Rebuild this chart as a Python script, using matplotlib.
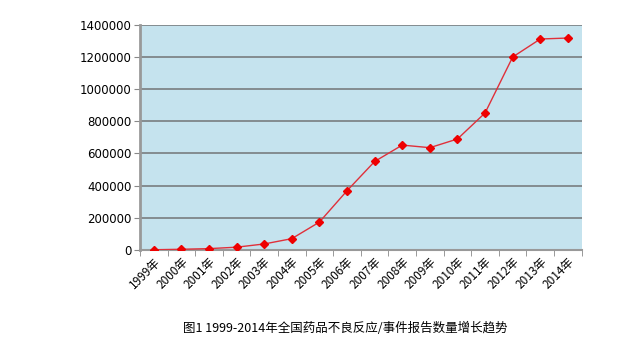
#!/usr/bin/env python3

import numpy as np
import matplotlib
matplotlib.use('Agg')
import matplotlib.pyplot as plt

years = ['1999年', '2000年', '2001年', '2002年', '2003年', '2004年', '2005年', '2006年',
         '2007年', '2008年', '2009年', '2010年', '2011年', '2012年', '2013年', '2014年']
reports = [1000, 4000, 8000, 17000, 37000, 70000, 173000, 368000,
           550000, 652000, 636000, 690000, 852000, 1200000, 1312000, 1318000]
yticks = [0, 200000, 400000, 600000, 800000, 1000000, 1200000, 1400000]


def main():
    plt.rcParams['font.family'] = ['Noto Sans CJK SC', 'DejaVu Sans']
    fig = plt.figure(figsize=(6.33, 3.55), dpi=100)
    ax = fig.add_axes([0.221, 0.296, 0.698, 0.634])

    x = np.arange(len(years))
    ax.set_facecolor('#c5e3ee')
    ax.plot(x, reports, color='#e0303a', lw=1.0, marker='D', ms=4.5,
            mfc='#ee0000', mec='#ee0000', zorder=3)

    ax.set_xlim(-0.5, len(years) - 0.5)
    ax.set_ylim(0, 1400000)
    ax.set_yticks(yticks)
    ax.set_yticklabels([str(v) for v in yticks], fontsize=8.5, family='DejaVu Sans')
    ax.yaxis.grid(True, color='#7f8589', lw=1.3)
    ax.set_axisbelow(True)

    ax.set_xticks(x)
    ax.set_xticklabels(years, rotation=45, ha='right', rotation_mode='anchor', fontsize=8.5)
    ax.set_xticks(np.arange(-0.5, len(years)), minor=True)
    ax.tick_params(axis='x', which='major', length=0, pad=4)
    ax.tick_params(axis='x', which='minor', length=4, color='#888888')
    ax.tick_params(axis='y', length=4, color='#888888', pad=2)

    for side in ['top', 'right']:
        ax.spines[side].set_visible(False)
    ax.spines['left'].set_color('#999999')
    ax.spines['left'].set_linewidth(2)
    ax.spines['bottom'].set_color('#999999')
    ax.spines['bottom'].set_linewidth(1.5)

    fig.text(0.545, 0.076, '图1 1999-2014年全国药品不良反应/事件报告数量增长趋势',
             ha='center', va='center', fontsize=9)

    plt.savefig('out.png', dpi=100)


if __name__ == "__main__":
    main()
